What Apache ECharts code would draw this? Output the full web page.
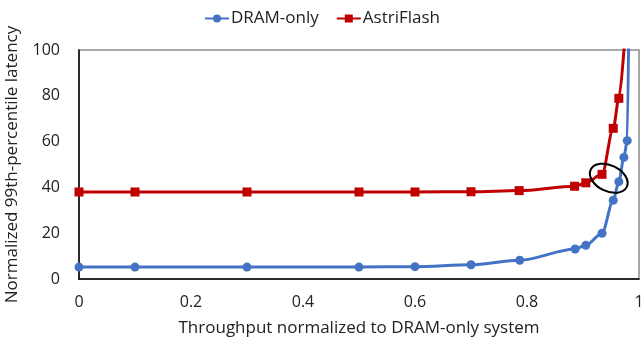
<!DOCTYPE html>
<html><head><meta charset="utf-8">
<script src="https://cdn.jsdelivr.net/npm/echarts@6/dist/echarts.min.js"></script>
<style>html,body{margin:0;padding:0;background:#fff}#c{width:644px;height:341px}</style>
</head><body><div id="c"></div>
<script>
var dramX = [0, 0.1, 0.3, 0.5, 0.6, 0.7, 0.787, 0.886, 0.905, 0.934, 0.954, 0.964, 0.973, 0.979, 0.983];
var dramY = [5.2, 5.2, 5.2, 5.2, 5.4, 6.2, 8.2, 13.1, 14.7, 20, 34.4, 42.5, 53.1, 60.4, 140];
var astriX = [0, 0.1, 0.3, 0.5, 0.6, 0.7, 0.786, 0.885, 0.905, 0.934, 0.954, 0.964, 0.976];
var astriY = [38, 38, 38, 38, 38, 38.1, 38.6, 40.5, 42, 45.7, 65.8, 78.9, 110];
var xTicks = [0, 0.2, 0.4, 0.6, 0.8, 1];
var yTicks = [0, 20, 40, 60, 80, 100];
var ellipseAt = [0.946, 44];

function pairs(xs, ys){ return xs.map(function(x,i){ return [x, ys[i]]; }); }
var font = '"Open Sans", Lato, sans-serif';
var chart = echarts.init(document.getElementById('c'));
chart.setOption({
  animation: false,
  textStyle: {fontFamily: font},
  legend: {
    top: 5, left: 'center', itemGap: 17, itemWidth: 24, itemHeight: 10,
    textStyle: {fontSize: 17, color: '#222', fontFamily: font, padding: [0, 0, 0, -3]},
    data: ['DRAM-only', 'AstriFlash']
  },
  grid: {left: 79, right: 5, top: 50, bottom: 62, show: true, borderColor: '#8c8c8c', borderWidth: 1.5,
    containLabel: false, outerBoundsMode: 'none'},
  xAxis: {
    type: 'value', min: 0, max: 1, interval: 0.2,
    name: 'Throughput normalized to DRAM-only system', nameLocation: 'middle', nameGap: 41,
    nameTextStyle: {fontSize: 17, color: '#222', fontFamily: font},
    axisLine: {show: true, onZero: false, lineStyle: {color: '#000', width: 1.5}},
    axisTick: {show: false}, splitLine: {show: false},
    axisLabel: {fontSize: 16, color: '#222', margin: 15, fontFamily: font,
      formatter: function(v){ return xTicks.indexOf(Math.round(v*10)/10) >= 0 ? String(Math.round(v*10)/10) : ''; }}
  },
  yAxis: {
    type: 'value', min: 0, max: 100, interval: 20,
    name: 'Normalized 99th-percentile latency', nameLocation: 'middle', nameGap: 58,
    nameTextStyle: {fontSize: 17, color: '#222', fontFamily: font},
    axisLine: {show: true, lineStyle: {color: '#000', width: 1.5}},
    axisTick: {show: false}, splitLine: {show: false},
    axisLabel: {fontSize: 16, color: '#222', margin: 19, fontFamily: font,
      formatter: function(v){ return yTicks.indexOf(v) >= 0 ? String(v) : ''; }}
  },
  series: [
    {name: 'DRAM-only', type: 'line', data: pairs(dramX, dramY), smooth: 0.3, smoothMonotone: 'x',
     symbol: 'circle', symbolSize: 9, clip: true,
     lineStyle: {color: '#4472C4', width: 3}, itemStyle: {color: '#4472C4'}},
    {name: 'AstriFlash', type: 'line', data: pairs(astriX, astriY), smooth: 0.3, smoothMonotone: 'x',
     symbol: 'rect', symbolSize: 9, clip: true,
     lineStyle: {color: '#C00000', width: 3}, itemStyle: {color: '#C00000'}}
  ]
});
var p = chart.convertToPixel({gridIndex: 0}, ellipseAt);
chart.setOption({
  graphic: [{type: 'ellipse', x: p[0], y: p[1], rotation: -0.45,
    shape: {cx: 0, cy: 0, rx: 20, ry: 13},
    style: {fill: 'none', stroke: '#000', lineWidth: 2}, z: 100}]
});
</script></body></html>
